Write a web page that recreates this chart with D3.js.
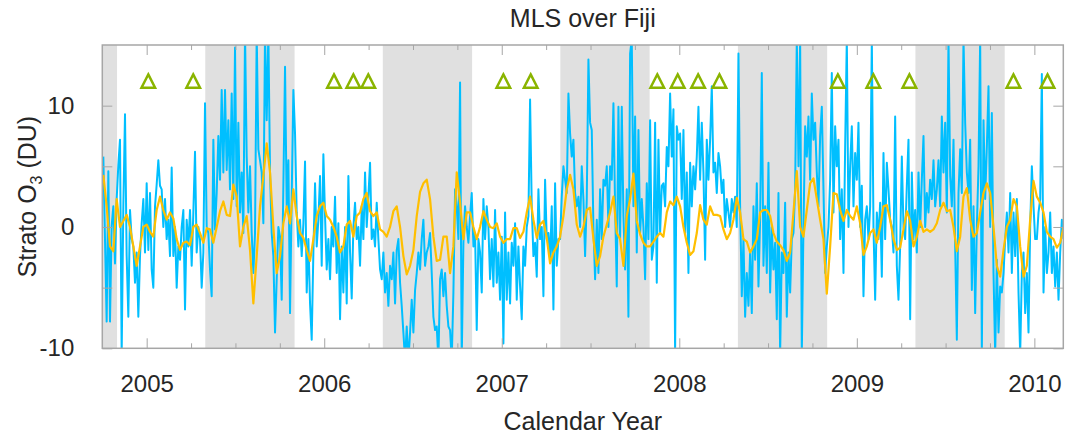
<!DOCTYPE html>
<html><head><meta charset="utf-8">
<script src="https://cdn.jsdelivr.net/npm/d3@7"></script>
<style>body{margin:0;background:#fff}svg{display:block}</style>
</head><body>
<svg id="chart" width="1073" height="435"></svg>
<script>
// ---------------- data ----------------
const chartTitle = "MLS over Fiji";
const xTitle = "Calendar Year";
const yTickValues = [-10, -5, 0, 5, 10];
const yTickLabels = {"-10": "-10", "0": "0", "10": "10"};
const yearTicks = [2005, 2006, 2007, 2008, 2009, 2010];
const quarterTicks = [2005.25,2005.5,2005.75,2006.25,2006.5,2006.75,2007.25,2007.5,2007.75,
                      2008.25,2008.5,2008.75,2009.25,2009.5,2009.75];
// Southern-hemisphere winter bands (May 1 – Nov 1), decimal years
const bandStarts = [2004.33, 2005.33, 2006.33, 2007.33, 2008.33, 2009.33];
const bandEnds   = [2004.833, 2005.833, 2006.833, 2007.833, 2008.833, 2009.833];
// sonde launch markers
const sondeDates = [2005.009, 2005.262, 2006.055, 2006.164, 2006.248, 2007.009, 2007.163,
                    2007.876, 2007.991, 2008.106, 2008.226, 2008.893, 2009.093, 2009.296,
                    2009.882, 2010.074];
const sondeLevel = 12;
// daily stratospheric O3 anomaly (DU), sampled every 1/106.5 yr
const dailyStart = 2004.7558, dailyPerYear = 106.5;
const dailyO3 = [
5.8,-1.0,-7.8,4.6,-7.8,0.1,1.7,-3.0,2.3,5.1,7.2,-10.5,1.7,9.3,-2.4,-7.4,1.4,-1.0,-1.6,-4.6,-2.1,-7.4,-2.4,0.3,2.3,-2.1,3.6,-1.9,2.8,-3.5,-5.0,1.7,3.5,5.5,3.4,3.1,0,2.3,-1.0,0.6,-2.4,4.9,-2.4,0,-5.0,-1.6,-2.7,0,1.4,-6.8,0.6,-1.6,1.4,-3.2,1.2,6.2,-2.1,0,-1.0,-5.0,-2.1,10.2,0,-0.5,-3.5,-5.7,7.2,-0.2,2.8,7.5,3.9,11.3,4.5,11.3,4.7,8.8,
3.1,11.0,2.3,14.8,1.7,8.6,1.2,4.5,-0.5,16,5.8,1.2,5.0,-0.5,-3.8,-0.5,16,6.4,5.5,4.5,0.3,16,8.8,16,4.5,-0.5,-2.4,-8.7,-4.3,0,-0.8,-6.0,3.4,13.2,1.7,5.5,-7.1,2.5,11.3,7.7,1.2,-1.6,0.6,-2.4,0.3,5.4,-5.4,-1.0,-6.3,-9.3,-2.1,3.6,-1.6,0.6,4.2,-3.2,6.0,0.9,-3.5,-1.0,-4.3,0,-1.6,2.5,-3.8,0.3,-7.6,-1.6,-5.4,0,-6.3,4.2,-2.1,-5.9,0,2.0,-1.0,0,
-3.2,1.7,-1.0,4.5,0,2.5,5.3,-1.0,-0.2,-1.6,2.0,-1.0,-3.5,-4.3,-2.1,-5.4,-3.8,-6.5,-3.2,-4.3,-2.1,-6.3,-1.9,-1.0,-4.6,-6.5,-8.7,-11,-8.2,-11,-8.7,-6.0,-8.7,-5.2,-3.8,-2.1,-3.5,-1.0,0.6,-3.2,-2.1,-1.6,-0.5,-3.8,-7.4,-8.5,-8.2,-11,-4.3,-3.5,-5.7,-3.8,-6.5,-8.2,-8.5,-11,-5.4,3.1,1.7,-1.0,11.9,-11,-1.3,1.7,0,-1.3,0.9,2.8,-1.6,-0.5,-8.5,-1.0,-2.1,-5.4,2.3,-1.0,1.7,0,
-4.3,-1.0,-4.9,1.4,-4.6,-2.1,-6.0,-0.8,-9.6,1.2,-6.0,-2.1,-6.3,-1.3,-3.2,0.3,-6.0,-1.6,-4.9,-7.6,-1.6,-3.2,0,0.9,10.5,1.7,-2.4,-1.3,-4.1,3.1,-1.0,0,-5.7,3.9,-1.0,-0.5,-2.7,1.7,-6.8,3.6,-3.2,-1.0,-1.0,2.5,5.0,3.9,2.8,11.0,7.7,5.8,7.2,2.8,1.7,2.5,0,5.0,2.3,-2.4,2.3,13.8,8.6,8.0,0,-4.3,0.6,-3.8,3.1,-1.0,3.9,3.4,5.0,0,5.0,3.9,10.2,1.7,-4.9,9.9,
-1.0,9.9,0.9,-3.5,3.1,-7.4,14.3,15.5,1.7,9.1,-2.1,8.0,-0.5,2.3,0,-4.3,3.6,-1.0,8.8,-2.7,-1.6,8.6,-4.6,7.2,-0.5,3.4,3.6,1.7,6.6,5.0,11.0,5.8,9.7,-10.5,8.3,7.2,7.7,2.3,8.0,-0.5,4.5,-3.8,5.3,1.7,5.0,3.1,5.8,9.9,3.9,8.6,4.5,-2.7,7.2,3.9,7.2,11.6,4.5,5.3,2.8,6.1,5.0,2.8,3.9,0,2.3,1.2,0,2.3,1.2,2.5,0,14.3,1.7,-5.7,-1.0,-7.4,-3.8,-6.5,
-2.1,-7.1,1.7,-2.7,3.6,-4.9,0.6,12.7,-3.2,1.7,-3.8,5.3,-5.4,0,-3.5,-1.3,-7.6,2.8,-10.5,-2.1,-3.8,2.0,-7.4,-2.1,-5.4,-1.0,-0.5,3.1,15.5,5.0,15.5,-10.5,0,8.3,5.8,9.1,3.9,11.0,7.2,8.6,4.5,1.7,7.5,9.9,3.1,-3.8,-1.6,0,3.9,12.7,1.2,8.3,5.0,7.2,-1.0,3.1,-3.8,6.6,15.5,0,5.0,8.3,1.7,6.1,3.9,8.6,0,3.4,-5.7,0.6,1.7,-1.0,1.7,15.5,0,-6.0,1.2,-1.0,
2.0,-4.1,6.1,-1.0,5.3,3.1,0.6,0,-2.1,9.1,-3.2,-6.0,-1.6,5.8,0,-1.0,3.4,7.2,-7.6,4.5,-1.0,1.4,-2.1,4.5,0,3.9,7.5,0,2.8,1.2,3.9,2.3,5.5,1.7,3.1,5.5,1.7,9.1,4.5,8.6,1.2,15.5,4.2,1.7,7.2,-1.6,-9.3,2.8,6.4,2.8,15.5,8.6,4.5,2.8,7.2,-5.2,1.7,-7.1,0,5.0,15.5,-10.5,8.8,2.3,6.6,11.6,0,9.4,-3.8,-10.5,-2.7,-8.7,-4.9,-5.4,-3.8,-1.0,1.2,-2.1,
2.8,-3.8,1.2,-2.4,2.3,-5.4,-10.5,-3.8,-2.1,-7.1,-3.8,-8.7,0,5.0,1.7,-1.0,-1.0,1.2,2.3,12.6,-5.4,0,-3.8,-2.1,1.2,-3.8,-1.6,-4.9,-2.1,-6.0,-2.1,0.6,-1.0
];
// smoothed O3 anomaly (DU), sampled every 1/53.25 yr
const smoothStart = 2004.7558, smoothPerYear = 53.25;
const smoothO3 = [
4.3,1.7,-1.6,-2.0,2.3,0,0.5,1.0,0,-1.6,-3.2,-1.6,0,0.2,-0.4,-0.8,1.4,2.5,1.4,0.6,1.2,0.7,-1.0,-1.9,-1.3,-1.2,-1.5,0,0.2,-0.5,-1.3,-0.1,-0.2,-1.3,0,1.3,2.1,1.0,
0.9,3.5,2.5,-1.6,0,0.9,-1.9,-6.3,-2.4,1.7,4.2,6.9,4.5,0,-3.8,-2.4,0.3,1.7,0.3,3.1,0.9,-0.5,-0.9,-1.9,-2.8,-1.0,0.9,1.7,2.0,0.9,0.6,0,-0.8,-2.1,-1.6,0.2,0.5,-0.8,0.9,
1.2,2.3,2.8,1.3,0.9,1.2,-0.2,-0.4,-0.8,0,1.3,1.7,0,-2.4,-3.9,-3.2,-1.9,0.9,2.9,3.6,3.9,2.3,-0.8,-2.8,-2.7,-0.8,-0.8,-3.8,-1.6,4.5,2.0,-1.0,1.2,1.2,0,-1.0,0,1.3,0.6,
0,-0.1,0.3,-0.8,-1.3,-1.0,-1.0,-0.1,-0.1,-0.9,-0.4,1.2,2.5,0.6,-0.9,0.2,0.5,-0.9,-3.0,-2.1,-1.6,-0.8,0.9,3.1,4.3,3.1,0.2,-0.8,0,1.4,1.6,-1.0,-3.2,-2.4,-0.8,0.2,1.2,2.5,-0.5,
-1.0,-3.2,0.9,2.3,4.4,0.5,-0.6,-1.3,-1.6,-1.6,-1.2,-0.8,-0.5,-0.8,1.2,2.1,1.8,2.5,1.7,0,-1.3,-2.3,-2.0,-0.5,1.8,0.6,0.2,1.7,1.0,1.0,0.9,-0.2,-1.0,-0.5,0.6,2.4,1.2,-1.0,-1.2,
-2.1,-1.6,-1.0,1.2,1.4,1.4,0.9,-0.5,-1.2,-1.5,-1.9,-2.8,-2.1,1.2,4.6,0,-0.8,1.4,3.6,4.0,2.3,0.6,-1.0,-5.5,-1.6,2.8,2.7,1.4,0.5,1.4,0.9,0.6,1.7,0.3,-2.3,-1.6,-0.5,-0.2,-1.3,
0,1.7,1.8,0.6,-1.0,-1.9,-1.7,-0.2,1.3,0.5,-1.6,-0.8,0.5,-0.4,-0.2,-0.4,-0.2,0.3,1.4,2.0,1.3,1.4,0,-2.0,-0.8,2.5,3.2,0.6,-0.8,-0.5,1.2,2.8,3.6,2.8,0,-3.2,-4.1,-1.9,0,
0.6,2.3,1.7,-1.6,-4.1,-3.2,0.6,3.8,2.5,2.0,1.2,-0.4,-0.8,-1.0,-1.7,-1.3,0
];

// ---------------- layout & styles ----------------
const W = 1073, H = 435;
const plot = {left: 102.3, right: 1063.3, top: 45, bottom: 348.3};
const FONT = "'Liberation Sans', Arial, Helvetica, sans-serif";
const TEXT = "#262626", AXIS = "#a6a6a6";

const svg = d3.select("#chart");
svg.append("rect").attr("width", W).attr("height", H).attr("fill", "#fff");

const x = d3.scaleLinear().domain([2004.75, 2010.163]).range([plot.left, plot.right]);
const y = d3.scaleLinear().domain([-10, 15]).range([plot.bottom, plot.top]);

svg.append("defs").append("clipPath").attr("id", "clip")
  .append("rect").attr("x", plot.left).attr("y", plot.top)
  .attr("width", plot.right - plot.left).attr("height", plot.bottom - plot.top);

const g = svg.append("g").attr("clip-path", "url(#clip)");

// bands
g.selectAll("rect.band").data(bandStarts.map((s, i) => [s, bandEnds[i]])).enter()
  .append("rect").attr("class", "band")
  .attr("x", d => x(d[0])).attr("width", d => x(d[1]) - x(d[0]))
  .attr("y", plot.top).attr("height", plot.bottom - plot.top)
  .attr("fill", "#e0e0e0");

// lines
const daily = dailyO3.map((v, i) => [dailyStart + i / dailyPerYear, v]);
const smooth = smoothO3.map((v, i) => [smoothStart + i / smoothPerYear, v]);
const line = d3.line().x(d => x(d[0])).y(d => y(d[1]));

g.append("path").datum(daily).attr("d", line)
  .attr("fill", "none").attr("stroke", "#00bfff").attr("stroke-width", 2).attr("stroke-linejoin", "round");
g.append("path").datum(smooth).attr("d", line)
  .attr("fill", "none").attr("stroke", "#ffbf00").attr("stroke-width", 2.2).attr("stroke-linejoin", "round");

// triangles
g.selectAll("path.sonde").data(sondeDates).enter().append("path").attr("class", "sonde")
  .attr("transform", d => `translate(${x(d)},${y(sondeLevel)})`)
  .attr("d", "M0,-7L6.8,6.3L-6.8,6.3Z")
  .attr("fill", "none").attr("stroke", "#8ab400").attr("stroke-width", 2.5);

// axes
function styleAxis(sel) {
  sel.select(".domain").remove();
  sel.selectAll(".tick line").attr("stroke", AXIS).attr("stroke-width", 1);
  sel.selectAll(".tick text").attr("fill", TEXT).style("font-family", FONT).style("font-size", "24px");
}
const fmtYear = d3.format("d");
svg.append("g").attr("transform", `translate(0,${plot.bottom})`)
  .call(d3.axisBottom(x).tickValues(yearTicks).tickSize(-10).tickPadding(27).tickFormat(fmtYear))
  .call(styleAxis);
svg.append("g").attr("transform", `translate(0,${plot.bottom})`)
  .call(d3.axisBottom(x).tickValues(quarterTicks).tickSize(-5).tickFormat(""))
  .call(styleAxis);
svg.append("g").attr("transform", `translate(0,${plot.top})`)
  .call(d3.axisTop(x).tickValues(yearTicks).tickSize(-10).tickFormat(""))
  .call(styleAxis);
svg.append("g").attr("transform", `translate(0,${plot.top})`)
  .call(d3.axisTop(x).tickValues(quarterTicks).tickSize(-5).tickFormat(""))
  .call(styleAxis);
svg.append("g").attr("transform", `translate(${plot.left},0)`)
  .call(d3.axisLeft(y).tickValues(yTickValues).tickSize(-10).tickPadding(28)
        .tickFormat(d => yTickLabels[String(d)] || ""))
  .call(styleAxis);
svg.append("g").attr("transform", `translate(${plot.right},0)`)
  .call(d3.axisRight(y).tickValues(yTickValues).tickSize(-10).tickFormat(""))
  .call(styleAxis);

// frame
svg.append("rect").attr("x", plot.left).attr("y", plot.top)
  .attr("width", plot.right - plot.left).attr("height", plot.bottom - plot.top)
  .attr("fill", "none").attr("stroke", AXIS).attr("stroke-width", 1.5);

// titles
const cx = (plot.left + plot.right) / 2;
svg.append("text").attr("x", cx).attr("y", 27).attr("text-anchor", "middle")
  .attr("fill", TEXT).style("font-family", FONT).style("font-size", "25px").text(chartTitle);
svg.append("text").attr("x", cx).attr("y", 430).attr("text-anchor", "middle")
  .attr("fill", TEXT).style("font-family", FONT).style("font-size", "25px").text(xTitle);
const yl = svg.append("text")
  .attr("transform", `translate(36,${(plot.top + plot.bottom) / 2}) rotate(-90)`)
  .attr("text-anchor", "middle").attr("fill", TEXT)
  .style("font-family", FONT).style("font-size", "25px");
yl.append("tspan").text("Strato O");
yl.append("tspan").attr("dy", 6).style("font-size", "16px").text("3");
yl.append("tspan").attr("dy", -6).text(" (DU)");
</script>
</body></html>
